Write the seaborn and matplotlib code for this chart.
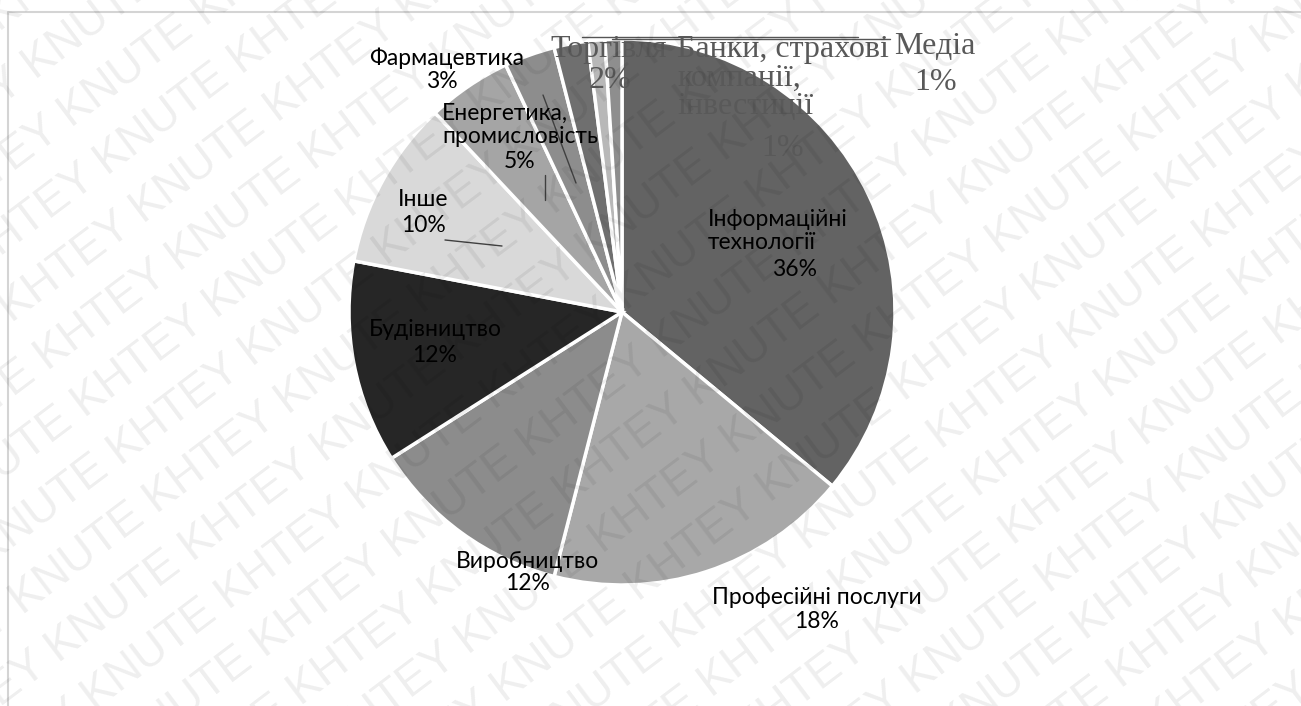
import matplotlib
matplotlib.use("Agg")
import matplotlib.pyplot as plt
import seaborn as sns
import numpy as np

sns.set_theme(style="white")
plt.rcParams['font.family'] = ['Lato', 'DejaVu Sans']

# ---- data ----
categories = ["Інформаційні\nтехнології", "Професійні послуги", "Виробництво", "Будівництво",
              "Інше", "Енергетика,\nпромисловість", "Фармацевтика", "Торгівля",
              "Банки, страхові\nкомпанії,\nінвестиції", "Медіа"]
values = [36, 18, 12, 12, 10, 5, 3, 2, 1, 1]
colors = ["#636363", "#a8a8a8", "#8c8c8c", "#262626", "#d9d9d9",
          "#a5a5a5", "#8d8d8d", "#6f6f6f", "#b8b8b8", "#8e8e8e"]

W, H = 1301, 706
fig = plt.figure(figsize=(W / 100, H / 100), dpi=100)
fig.patch.set_facecolor("white")
ax = fig.add_axes([0, 0, 1, 1])


def Y(y):
    return H - y


cx, cy, r = 622, Y(312), 273
ax.pie(values, colors=colors, startangle=90, counterclock=False,
       center=(cx, cy), radius=r, frame=True,
       wedgeprops=dict(edgecolor="white", linewidth=2.5))
ax.set_xlim(0, W)
ax.set_ylim(0, H)
ax.axis("off")

# frame
ax.plot([8, 8, W + 10], [Y(H + 10), Y(12), Y(12)], color="#d4d4d4", lw=1.5, zorder=1)

# label layout: (name centre x, name centre y, pct centre x, pct centre y) in image px
layout = {
    0: (778, 231, 795, 270),
    1: (817, 597, 817, 622),
    2: (528, 561, 528, 584),
    3: (435, 329, 435, 355),
    4: (423, 199, 423, 225),
    5: (520, 125, 520, 161),
    6: (447, 58, 442, 82),
    7: (609, 50, 610, 80),
    8: (783, 78, 783, 148),
    9: (935, 46, 936, 82),
}
serif_idx = {7, 8, 9}
for i, (nx, ny, px, py) in layout.items():
    if i in serif_idx:
        kw = dict(fontsize=23, color="#595959", family="Liberation Serif", linespacing=1.0)
    else:
        kw = dict(fontsize=16.5, color="black", linespacing=1.1)
    ax.text(nx, Y(ny), categories[i], ha="center", va="center",
            multialignment="left", zorder=5, **kw)
    ax.text(px, Y(py), f"{values[i]}%", ha="center", va="center", zorder=5, **kw)

# leader lines
lc = "#404040"
ax.plot([445, 502], [Y(240), Y(246)], color=lc, lw=1, zorder=4)
ax.plot([545, 545], [Y(175), Y(200)], color=lc, lw=1, zorder=4)
ax.plot([543, 576], [Y(95), Y(183)], color=lc, lw=1, zorder=4)
ax.plot([582, 858], [Y(37), Y(37)], color="#555555", lw=1, zorder=4)
ax.plot([612, 890], [Y(39), Y(39)], color="#555555", lw=1, zorder=4)

# watermark
ang = 37
row = ("KNUTE KHTEY " * 12).strip()
perp = np.array([-np.sin(np.radians(ang)), np.cos(np.radians(ang))])
c0 = np.array([650, 353])
for k in range(-13, 14):
    px, py = c0 + k * 60 * perp
    ax.text(px, py, row, rotation=ang, ha="center", va="center",
            rotation_mode="anchor", fontsize=33, family="Liberation Sans",
            color="black", alpha=0.065, zorder=10, clip_on=True)

fig.savefig("out.png", dpi=100)
